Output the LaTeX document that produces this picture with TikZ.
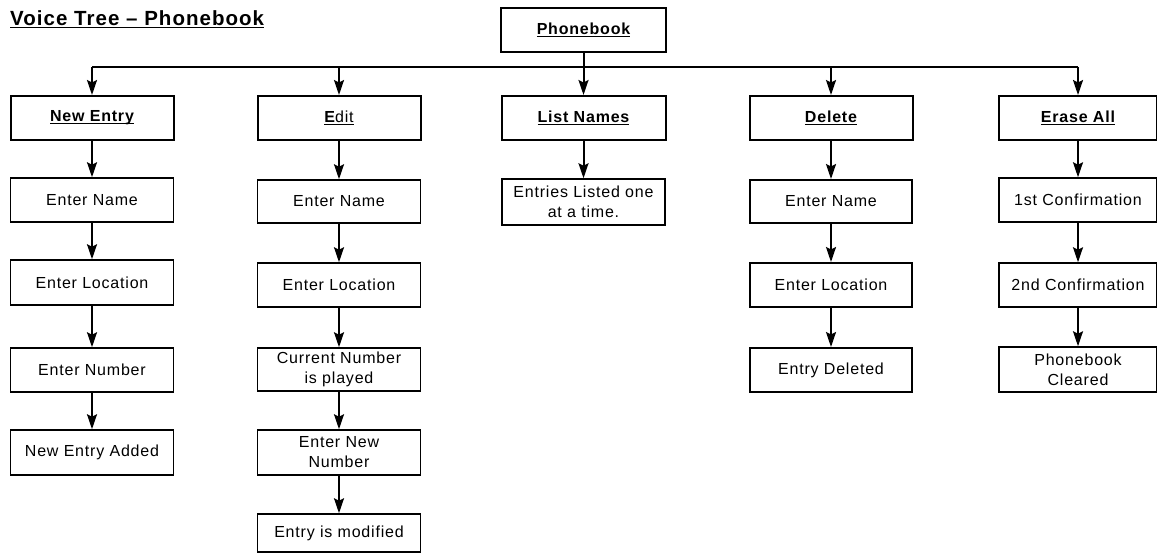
\documentclass[tikz,border=0pt]{standalone}
\usepackage{fontspec}
\setmainfont{Liberation Sans}[LetterSpace=5]
\usetikzlibrary{arrows.meta}
\newcommand\myul[1]{\setbox0\hbox{#1}\rlap{\rule[-2.5pt]{\wd0}{1.3pt}}\box0}
\begin{document}
\begin{tikzpicture}[x=1pt,y=-1pt,
  hdr/.style={draw,line width=2pt,minimum height=44pt,inner sep=0pt,
    font=\fontsize{16}{20}\selectfont\bfseries,align=center},
  sub/.style={draw,line width=1.5pt,minimum height=44pt,inner sep=0pt,
    font=\fontsize{16}{20}\selectfont,align=center},
  arr/.style={line width=2pt,-{Stealth[length=15pt,width=10pt,inset=2.5pt]}}]
\useasboundingbox (0,0) rectangle (1157,556);
\node[anchor=base west,inner sep=0pt,font=\fontsize{20.5}{24}\selectfont\bfseries] (title) at (10,26) {\myul{Voice Tree -- Phonebook}};
\node[hdr,minimum width=165pt] (pb) at (583.5,30) {\myul{Phonebook}};
\coordinate (bus) at (0,67);
% headers
\node[hdr,minimum width=163pt] (ne) at (92,118) {\myul{New Entry}};
\node[hdr,minimum width=163pt] (ed) at (339,118) {\myul{E\mdseries dit}};
\node[hdr,minimum width=164pt] (ls) at (583.5,118) {\myul{List Names}};
\node[hdr,minimum width=163pt] (de) at (831,118) {\myul{Delete}};
\node[hdr,minimum width=158pt] (ea) at (1078,118) {\myul{Erase All}};
% new entry column
\node[sub,minimum width=163pt] (ne1) at (92,200) {Enter Name};
\node[sub,minimum width=163pt,minimum height=45pt] (ne2) at (92,282.5) {Enter Location};
\node[sub,minimum width=163pt] (ne3) at (92,370) {Enter Number};
\node[sub,minimum width=163pt,minimum height=45pt] (ne4) at (92,452.5) {New Entry Added};
% edit column
\node[sub,minimum width=163pt,minimum height=43pt] (ed1) at (339,201.5) {Enter Name};
\node[sub,minimum width=163pt] (ed2) at (339,285) {Enter Location};
\node[sub,minimum width=163pt,minimum height=43pt] (ed3) at (339,369.5) {Current Number\\is played};
\node[sub,minimum width=163pt,minimum height=45pt] (ed4) at (339,452.5) {Enter New\\Number};
\node[sub,minimum width=163pt,minimum height=38pt] (ed5) at (339,533) {Entry is modified};
% list column
\node[sub,minimum width=163pt,minimum height=46pt] (ls1) at (583.5,202) {Entries Listed one\\at a time.};
% delete column
\node[sub,line width=2pt,minimum width=162pt,minimum height=43pt] (de1) at (831,201.5) {Enter Name};
\node[sub,line width=2pt,minimum width=162pt] (de2) at (831,285) {Enter Location};
\node[sub,line width=2pt,minimum width=162pt] (de3) at (831,370) {Entry Deleted};
% erase column
\node[sub,minimum width=158pt] (ea1) at (1078,200) {1st Confirmation};
\node[sub,minimum width=158pt] (ea2) at (1078,285) {2nd Confirmation};
\node[sub,minimum width=158pt,minimum height=45pt] (ea3) at (1078,369.5) {Phonebook\\Cleared};
% bus
\draw[line width=2pt] (ne |- bus) -- (ea |- bus);
\draw[arr] (pb) -- (ls);
\draw[arr] (ne |- bus) -- (ne);
\draw[arr] (ed |- bus) -- (ed);
\draw[arr] (de |- bus) -- (de);
\draw[arr] (ea |- bus) -- (ea);
% columns
\draw[arr] (ne) -- (ne1);
\draw[arr] (ne1) -- (ne2);
\draw[arr] (ne2) -- (ne3);
\draw[arr] (ne3) -- (ne4);
\draw[arr] (ed) -- (ed1);
\draw[arr] (ed1) -- (ed2);
\draw[arr] (ed2) -- (ed3);
\draw[arr] (ed3) -- (ed4);
\draw[arr] (ed4) -- (ed5);
\draw[arr] (ls) -- (ls1);
\draw[arr] (de) -- (de1);
\draw[arr] (de1) -- (de2);
\draw[arr] (de2) -- (de3);
\draw[arr] (ea) -- (ea1);
\draw[arr] (ea1) -- (ea2);
\draw[arr] (ea2) -- (ea3);
\end{tikzpicture}
\end{document}
